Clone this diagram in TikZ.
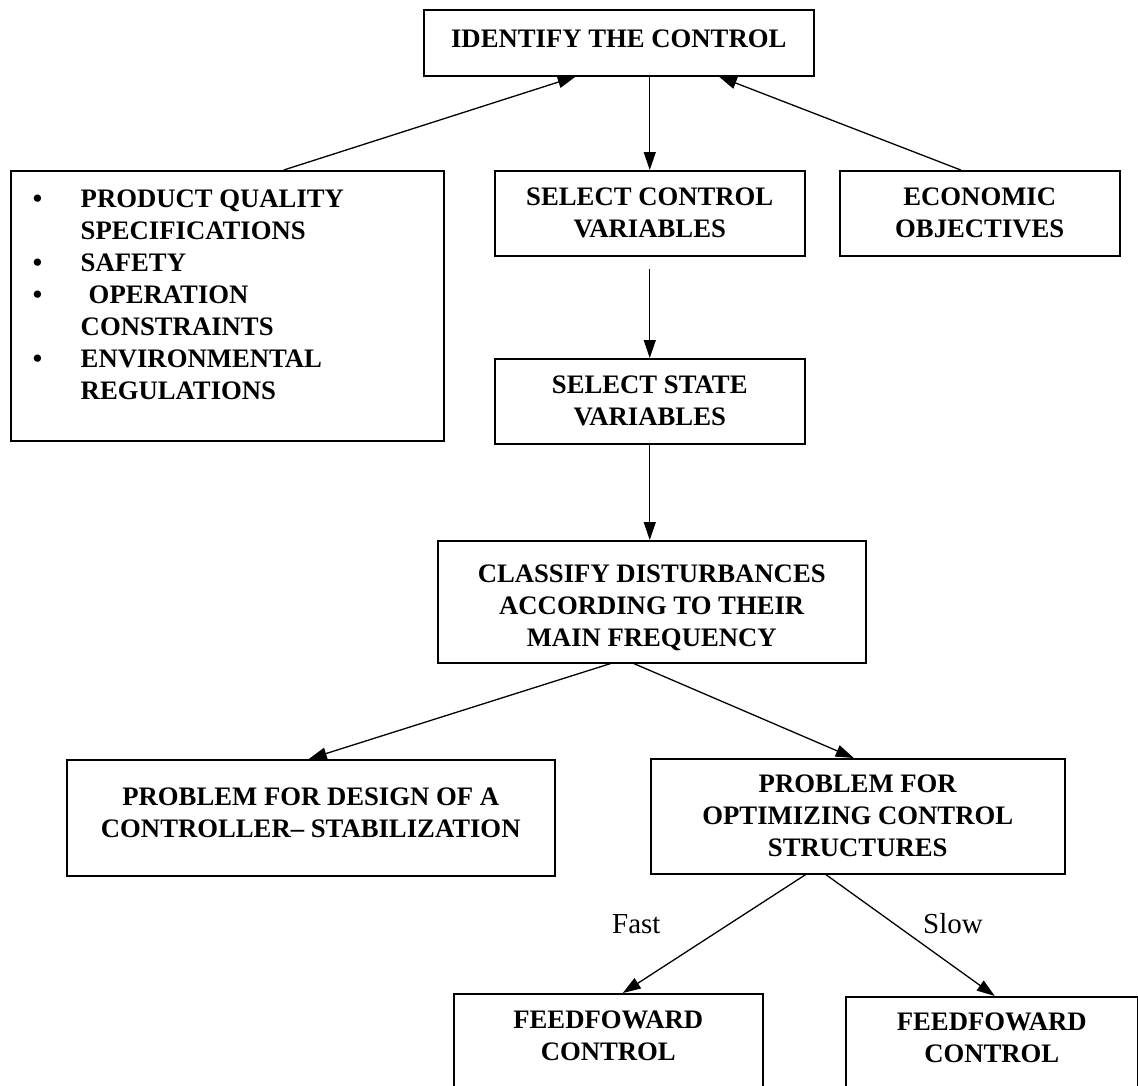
\documentclass[tikz,border=0pt]{standalone}
\usepackage{fontspec}
\setmainfont{Liberation Serif}
\usetikzlibrary{arrows.meta}
\begin{document}
\begin{tikzpicture}[x=1pt,y=-1pt,
  box/.style={draw, line width=1.5pt, inner sep=0pt, align=center,
    font=\fontsize{26.7}{32}\selectfont\bfseries, anchor=north west},
  arr/.style={line width=1.3pt, -{Triangle[length=18pt,width=12pt]}},
  lbl/.style={font=\fontsize{29}{32}\selectfont, anchor=base west, inner sep=0pt}]
\useasboundingbox (0,0) rectangle (1138,1085);
\fill[white] (0,0) rectangle (1138,1085);

% top of the chain
\node[box, minimum width=390pt, minimum height=66pt] (ident) at (423,9)
  {IDENTIFY THE CONTROL\rule[-8pt]{0pt}{0pt}};

% requirement list
\node[box, minimum width=433pt, minimum height=270pt] (reqs) at (10,170)
  {\begin{tabular}{@{\hspace{22pt}}p{48pt}@{}p{363pt}@{}}
   \textbullet & PRODUCT QUALITY\\
               & SPECIFICATIONS\\
   \textbullet & SAFETY\\
   \textbullet & \hspace{8pt}OPERATION\\
               & CONSTRAINTS\\
   \textbullet & ENVIRONMENTAL\\
               & REGULATIONS\\[16.8pt]
   \end{tabular}};

\node[box, minimum width=310pt, minimum height=85pt] (ctrl) at (494,170)
  {SELECT CONTROL\\VARIABLES};
\node[box, minimum width=280pt, minimum height=85pt] (econ) at (839,170)
  {ECONOMIC\\OBJECTIVES};
\node[box, minimum width=310pt, minimum height=85pt] (state) at (494,358)
  {SELECT STATE\\VARIABLES};
\node[box, minimum width=428pt, minimum height=122pt] (classify) at (437,540)
  {\rule{0pt}{30pt}CLASSIFY DISTURBANCES\\ACCORDING TO THEIR\\MAIN FREQUENCY};
\node[box, minimum width=488pt, minimum height=116pt] (prob1) at (66,759)
  {PROBLEM FOR DESIGN OF A\\CONTROLLER– STABILIZATION\rule[-10pt]{0pt}{0pt}};
\node[box, minimum width=414pt, minimum height=115pt] (prob2) at (650,758)
  {PROBLEM FOR\\OPTIMIZING CONTROL\\STRUCTURES};
\node[box, minimum width=309pt, minimum height=130pt] (ff1) at (453,993)
  {FEEDFOWARD\\CONTROL\rule[-46pt]{0pt}{0pt}};
\node[box, minimum width=292pt, minimum height=130pt] (ff2) at (845,996)
  {FEEDFOWARD\\CONTROL\rule[-48pt]{0pt}{0pt}};

% connectors
\draw[arr] ([xshift=56.5pt]reqs.north) -- ([xshift=-43pt]ident.south);
\draw[arr] ([xshift=-19pt]econ.north) -- ([xshift=100pt]ident.south);
\draw[arr] ([xshift=31pt]ident.south) -- (ctrl.north);
\draw[arr, shorten <=12pt] (ctrl.south) -- (state.north);
\draw[arr] (state.south) -- ([xshift=-2pt]classify.north);
\draw[arr] ([xshift=-41pt]classify.south) -- ([xshift=-2pt]prob1.north);
\draw[arr] ([xshift=-18pt]classify.south) -- ([xshift=-4pt]prob2.north);
\draw[arr] ([xshift=-52pt]prob2.south) -- ([xshift=14.5pt]ff1.north);
\draw[arr] ([xshift=-32pt]prob2.south) -- ([xshift=3pt]ff2.north);

% branch labels
\node[lbl] (fast) at (612,933) {Fast};
\node[lbl] (slow) at (923,933) {Slow};
\end{tikzpicture}
\end{document}
